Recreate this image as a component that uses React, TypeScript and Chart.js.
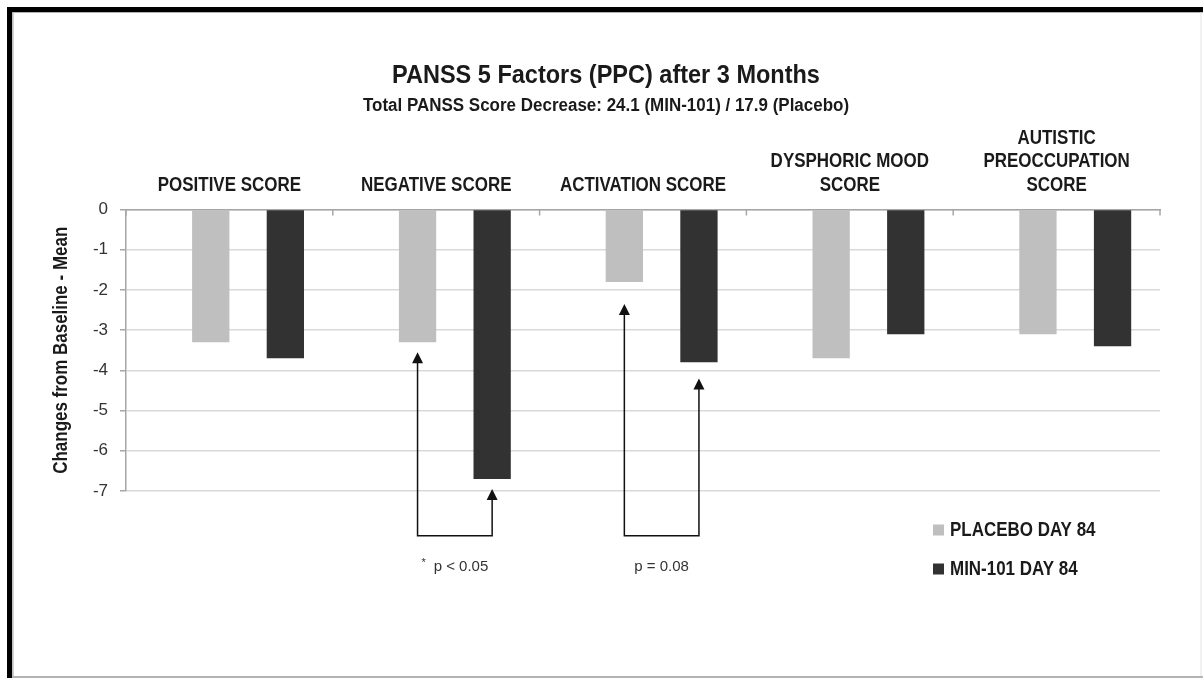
import { useEffect, useRef } from "react";
import { Chart, registerables } from "chart.js";

Chart.register(...registerables);

// ---------- data ----------
const categories: string[][] = [
  ["POSITIVE SCORE"],
  ["NEGATIVE SCORE"],
  ["ACTIVATION SCORE"],
  ["DYSPHORIC MOOD", "SCORE"],
  ["AUTISTIC", "PREOCCUPATION", "SCORE"],
];
const seriesNames = ["PLACEBO DAY 84", "MIN-101 DAY 84"];
const placeboDay84 = [-3.3, -3.3, -1.8, -3.7, -3.1];
const min101Day84 = [-3.7, -6.7, -3.8, -3.1, -3.4];
const yMin = -7;
const yMax = 0;
const yStep = 1;
const titleText = "PANSS 5 Factors (PPC) after 3 Months";
const subtitleText = "Total PANSS Score Decrease: 24.1 (MIN-101) / 17.9 (Placebo)";
const yAxisTitle = "Changes from Baseline - Mean";

// comparison brackets (values in axis units)
const comparisonCategories = [1, 2];
const comparisonLabels = ["p < 0.05", "p = 0.08"];
const comparisonStarred = [true, false];
const placeboArrowTips = [-3.55, -2.35];
const minArrowTips = [-6.95, -4.2];
const bracketBase = -8.11;
const comparisonLabelLevel = -8.88;

// ---------- styles ----------
const PLACEBO_COLOR = "#bfbfbf";
const MIN_COLOR = "#323232";
const AXIS_COLOR = "#a6a6a6";
const GRID_COLOR = "#d9d9d9";
const TEXT_COLOR = "#1a1a1a";
const FONT = "'Liberation Sans', Arial, Helvetica, sans-serif";
const NARROW_X = 0.87;

function narrowText(
  ctx: CanvasRenderingContext2D,
  text: string,
  x: number,
  y: number,
  font: string,
  sx: number,
  align: CanvasTextAlign,
  rotate = 0
) {
  ctx.save();
  ctx.translate(x, y);
  if (rotate) ctx.rotate(rotate);
  ctx.scale(sx, 1);
  ctx.font = font;
  ctx.textAlign = align;
  ctx.textBaseline = "middle";
  ctx.fillText(text, 0, 0);
  ctx.restore();
}

const decorPlugin = {
  id: "decor",
  afterDraw(chart: any) {
    const { ctx, chartArea } = chart;
    const xs = chart.scales.x;
    const ys = chart.scales.y;
    ctx.save();

    // frame
    ctx.fillStyle = "#000";
    ctx.fillRect(7, 7, 1196, 5.3);
    ctx.fillRect(7, 7, 5.3, 671);
    ctx.fillStyle = "#c8c8c8";
    ctx.fillRect(12.3, 12.3, 1.5, 666);
    ctx.fillStyle = "#b4b4b4";
    ctx.fillRect(12, 676, 1191, 2);
    ctx.fillStyle = "#e4e4e4";
    ctx.fillRect(1200.5, 12, 1, 664);

    // inward category ticks on the top axis
    const step = xs.getPixelForValue(1) - xs.getPixelForValue(0);
    ctx.strokeStyle = AXIS_COLOR;
    ctx.lineWidth = 1.5;
    for (let i = 0; i <= categories.length; i++) {
      const px = xs.getPixelForValue(0) - step / 2 + i * step;
      ctx.beginPath();
      ctx.moveTo(px, chartArea.top);
      ctx.lineTo(px, chartArea.top + 6);
      ctx.stroke();
    }

    // category labels (condensed bold, bottom-aligned above the top axis)
    ctx.fillStyle = TEXT_COLOR;
    const labelFont = `bold 19.5px ${FONT}`;
    const lineH = 23.5;
    const lastLineY = chartArea.top - 24;
    categories.forEach((lines, i) => {
      const cx = xs.getPixelForValue(i);
      lines.forEach((line, j) => {
        const ly = lastLineY - (lines.length - 1 - j) * lineH;
        narrowText(ctx, line, cx, ly, labelFont, NARROW_X, "center");
      });
    });

    // y axis title
    narrowText(
      ctx,
      yAxisTitle,
      62,
      (chartArea.top + chartArea.bottom) / 2,
      `bold 19.5px ${FONT}`,
      NARROW_X,
      "center",
      -Math.PI / 2
    );

    // titles
    narrowText(ctx, titleText, 606, 76, `bold 25px ${FONT}`, 0.94, "center");
    narrowText(ctx, subtitleText, 606, 106, `bold 17.5px ${FONT}`, 0.97, "center");

    // comparison brackets
    const pMeta = chart.getDatasetMeta(1);
    const mMeta = chart.getDatasetMeta(3);
    const baseY = ys.getPixelForValue(bracketBase);
    const ah = 11;
    const aw = 5.5;
    ctx.strokeStyle = "#111";
    ctx.lineWidth = 1.5;
    comparisonCategories.forEach((cat, k) => {
      const px = pMeta.data[cat].x;
      const mx = mMeta.data[cat].x;
      const pTip = ys.getPixelForValue(placeboArrowTips[k]);
      const mTip = ys.getPixelForValue(minArrowTips[k]);
      ctx.fillStyle = "#111";
      ctx.beginPath();
      ctx.moveTo(px, pTip + ah - 1);
      ctx.lineTo(px, baseY);
      ctx.lineTo(mx, baseY);
      ctx.lineTo(mx, mTip + ah - 1);
      ctx.stroke();
      [
        [px, pTip],
        [mx, mTip],
      ].forEach(([ax, ay]) => {
        ctx.beginPath();
        ctx.moveTo(ax, ay);
        ctx.lineTo(ax - aw, ay + ah);
        ctx.lineTo(ax + aw, ay + ah);
        ctx.closePath();
        ctx.fill();
      });
      // label
      const cx = (px + mx) / 2;
      const ly = ys.getPixelForValue(comparisonLabelLevel);
      ctx.fillStyle = "#333";
      ctx.font = `15px ${FONT}`;
      ctx.textBaseline = "middle";
      if (comparisonStarred[k]) {
        const mainW = ctx.measureText(comparisonLabels[k]).width;
        ctx.font = `11px ${FONT}`;
        const starW = ctx.measureText("*").width;
        const gap = 8;
        const total = starW + gap + mainW;
        const left = cx - total / 2;
        ctx.textAlign = "left";
        ctx.fillText("*", left, ly - 4);
        ctx.font = `15px ${FONT}`;
        ctx.fillText(comparisonLabels[k], left + starW + gap, ly);
      } else {
        ctx.textAlign = "center";
        ctx.fillText(comparisonLabels[k], cx, ly);
      }
    });

    // legend
    const legendColors = [PLACEBO_COLOR, MIN_COLOR];
    const legendY = [530, 569];
    seriesNames.forEach((name, i) => {
      ctx.fillStyle = legendColors[i];
      ctx.fillRect(933, legendY[i] - 5.5, 11, 11);
      ctx.fillStyle = TEXT_COLOR;
      narrowText(ctx, name, 950, legendY[i] + 1, `bold 19.5px ${FONT}`, NARROW_X, "left");
    });

    ctx.restore();
  },
};

export default function App() {
  const canvasRef = useRef<HTMLCanvasElement | null>(null);

  useEffect(() => {
    if (!canvasRef.current) return;
    const empty = categories.map(() => null);
    const chart = new Chart(canvasRef.current, {
      type: "bar",
      data: {
        labels: categories,
        datasets: [
          { label: "", data: empty as any, backgroundColor: "rgba(0,0,0,0)" },
          { label: seriesNames[0], data: placeboDay84, backgroundColor: PLACEBO_COLOR },
          { label: "", data: empty as any, backgroundColor: "rgba(0,0,0,0)" },
          { label: seriesNames[1], data: min101Day84, backgroundColor: MIN_COLOR },
        ],
      },
      options: {
        animation: false,
        responsive: true,
        maintainAspectRatio: false,
        events: [],
        layout: { padding: { left: 50, right: 43, top: 0, bottom: 187 } },
        datasets: {
          bar: { categoryPercentage: 0.7215, barPercentage: 1 },
        },
        plugins: {
          legend: { display: false },
          title: { display: false },
          tooltip: { enabled: false },
        },
        scales: {
          x: {
            type: "category",
            position: "top",
            grid: { display: true, drawOnChartArea: false, drawTicks: false },
            border: { display: true, color: AXIS_COLOR, width: 1.5 },
            ticks: { display: false },
            afterFit: (s: any) => {
              s.height = 209.5;
            },
          },
          y: {
            min: yMin,
            max: yMax,
            ticks: {
              stepSize: yStep,
              padding: 12,
              color: "#333",
              font: { family: FONT, size: 17 },
            },
            grid: { color: GRID_COLOR, lineWidth: 1.5, tickColor: AXIS_COLOR, tickLength: 6 },
            border: { display: true, color: AXIS_COLOR, width: 1.5 },
            title: { display: false, text: yAxisTitle },
            afterFit: (s: any) => {
              s.width = 76;
            },
          },
        },
      },
      plugins: [decorPlugin],
    });
    return () => chart.destroy();
  }, []);

  return (
    <div style={{ position: "fixed", left: 0, top: 0, width: 1203, height: 678, background: "#fff" }}>
      <canvas ref={canvasRef} />
    </div>
  );
}
